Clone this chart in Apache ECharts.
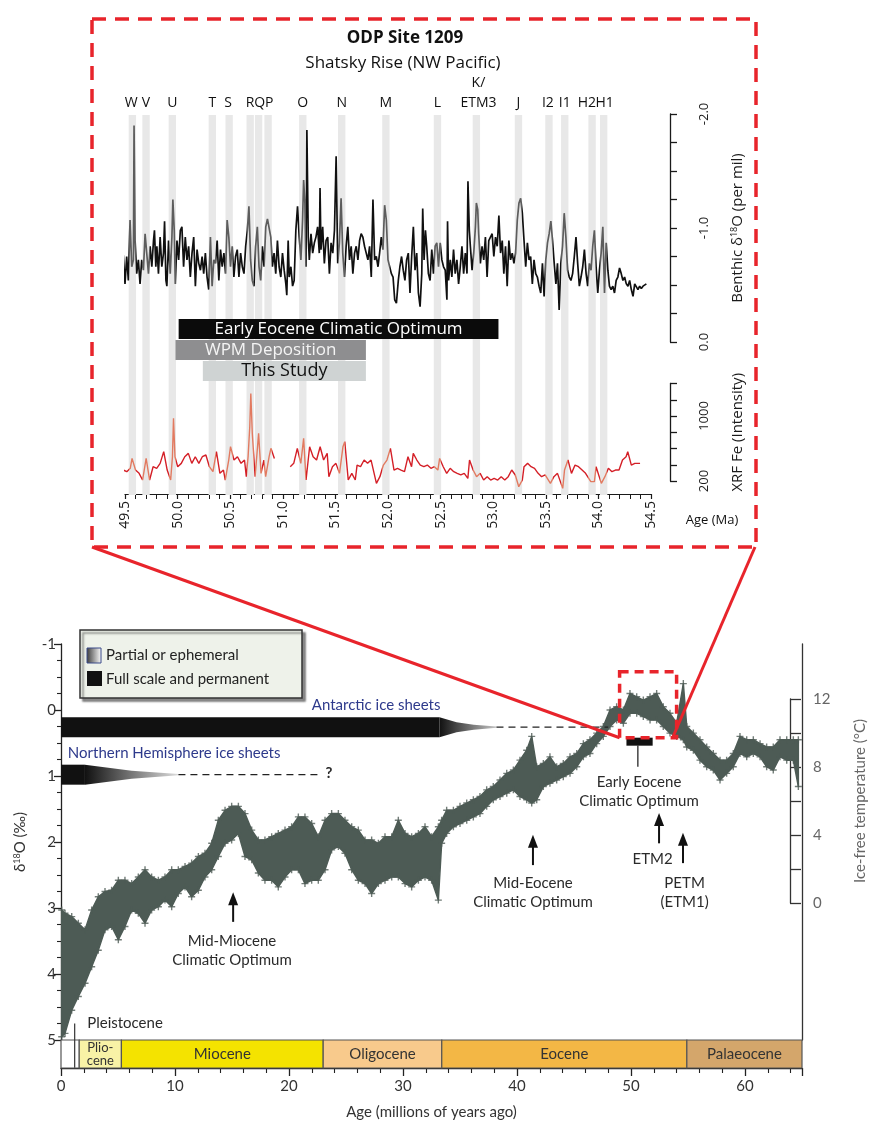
<!DOCTYPE html>
<html><head><meta charset="utf-8">
<script src="https://cdn.jsdelivr.net/npm/echarts/dist/echarts.min.js"></script>
<style>html,body{margin:0;padding:0;background:#fff}#c{width:875px;height:1131px}</style>
</head><body><div id="c"></div>
<script>
// ---------------- DATA ----------------
// ODP Site 1209 inset
const bandNames = ['W','V','U','T','S','R','Q','P','O','N','M','L','K/\nETM3','J','I2','I1','H2','H1'];
const bandAges  = [49.57,49.70,49.95,50.33,50.49,50.69,50.77,50.86,51.19,51.56,51.98,52.47,52.84,53.24,53.53,53.68,53.94,54.05];
const bandLabelAges = [49.56,49.70,49.95,50.33,50.48,50.69,50.78,50.87,51.19,51.56,51.98,52.47,52.86,53.24,53.52,53.68,53.89,54.06];
const bandWidth = 0.07;
const barNames  = ['Early Eocene Climatic Optimum','WPM Deposition','This Study'];
const barStart  = [50.01, 49.98, 50.24];
const barEnd    = [53.05, 51.79, 51.79];
const topTicksAge = [49.5, 54.5];
// benthic d18O (per mil) [age Ma, value]
const isoSeries = [[49.484,-0.76],[49.500,-0.51],[49.516,-0.75],[49.532,-0.54],[49.548,-1.07],[49.564,-0.66],[49.580,-0.72],[49.586,-1.90],[49.596,-0.89],[49.611,-0.60],[49.627,-0.72],[49.643,-0.51],[49.659,-0.72],[49.675,-0.63],[49.691,-0.95],[49.707,-0.94],[49.723,-0.60],[49.739,-0.84],[49.755,-0.66],[49.771,-0.89],[49.780,-0.98],[49.793,-0.66],[49.803,-0.84],[49.818,-0.60],[49.834,-0.92],[49.850,-0.66],[49.866,-0.78],[49.876,-1.06],[49.889,-0.54],[49.898,-0.49],[49.914,-0.89],[49.930,-0.60],[49.946,-0.92],[49.955,-1.25],[49.968,-0.98],[49.978,-0.51],[49.994,-0.89],[50.010,-0.72],[50.026,-0.98],[50.041,-1.01],[50.057,-0.66],[50.073,-0.92],[50.089,-0.72],[50.105,-0.84],[50.121,-0.57],[50.137,-0.78],[50.153,-0.92],[50.169,-0.49],[50.185,-0.81],[50.201,-0.69],[50.217,-0.63],[50.233,-0.75],[50.248,-0.60],[50.264,-0.78],[50.280,-0.57],[50.296,-0.46],[50.312,-0.92],[50.328,-0.49],[50.344,-0.72],[50.360,-0.69],[50.376,-0.89],[50.392,-0.54],[50.408,-0.81],[50.424,-0.66],[50.440,-0.78],[50.456,-0.60],[50.471,-1.07],[50.487,-0.92],[50.503,-0.66],[50.519,-0.84],[50.535,-0.57],[50.551,-0.75],[50.567,-0.81],[50.583,-0.57],[50.599,-0.78],[50.615,-0.66],[50.631,-0.60],[50.647,-0.84],[50.663,-0.98],[50.678,-1.19],[50.694,-0.72],[50.710,-0.54],[50.726,-0.49],[50.742,-0.84],[50.758,-1.01],[50.774,-0.66],[50.790,-0.54],[50.806,-0.84],[50.822,-0.66],[50.838,-1.01],[50.854,-1.08],[50.870,-1.07],[50.886,-0.92],[50.901,-0.66],[50.917,-0.78],[50.933,-0.60],[50.949,-0.89],[50.965,-0.66],[50.981,-0.57],[50.997,-0.78],[51.013,-0.63],[51.029,-0.51],[51.038,-0.41],[51.051,-0.89],[51.061,-0.57],[51.077,-0.66],[51.093,-0.49],[51.108,-0.54],[51.124,-0.98],[51.140,-1.19],[51.156,-0.92],[51.172,-0.72],[51.188,-1.07],[51.198,-1.42],[51.210,-1.22],[51.220,-0.66],[51.229,-1.86],[51.242,-0.92],[51.252,-0.72],[51.268,-0.95],[51.284,-0.78],[51.300,-0.87],[51.315,-0.92],[51.331,-1.01],[51.347,-0.78],[51.354,-1.35],[51.363,-0.81],[51.379,-1.01],[51.395,-0.69],[51.411,-0.89],[51.427,-0.92],[51.443,-0.60],[51.459,-0.87],[51.475,-0.78],[51.491,-0.98],[51.507,-1.63],[51.522,-0.69],[51.538,-0.87],[51.554,-1.26],[51.570,-0.78],[51.586,-0.57],[51.602,-0.84],[51.618,-1.01],[51.634,-0.72],[51.650,-0.84],[51.666,-0.60],[51.682,-0.78],[51.698,-0.84],[51.714,-0.72],[51.730,-0.89],[51.745,-0.95],[51.761,-0.92],[51.777,-0.84],[51.793,-0.78],[51.809,-0.72],[51.825,-0.84],[51.841,-0.57],[51.857,-1.25],[51.873,-0.72],[51.889,-0.75],[51.905,-0.66],[51.920,-0.78],[51.936,-0.92],[51.952,-0.81],[51.968,-1.20],[51.984,-1.07],[52.000,-0.72],[52.016,-0.66],[52.032,-0.60],[52.048,-0.57],[52.064,-0.37],[52.080,-0.34],
[52.098,-0.54],[52.113,-0.66],[52.129,-0.75],[52.145,-0.63],[52.161,-0.54],[52.177,-0.72],[52.193,-0.78],[52.209,-0.43],[52.225,-0.75],[52.241,-1.01],[52.257,-0.63],[52.273,-0.78],[52.289,-0.43],[52.305,-0.31],[52.321,-0.60],[52.330,-1.17],[52.343,-0.72],[52.356,-0.98],[52.368,-0.84],[52.384,-0.60],[52.400,-0.54],[52.416,-0.81],[52.432,-0.60],[52.448,-0.84],[52.464,-0.87],[52.480,-0.66],[52.496,-0.87],[52.512,-0.72],[52.528,-0.66],[52.544,-0.63],[52.560,-0.37],[52.566,-1.06],[52.576,-0.54],[52.592,-0.72],[52.607,-0.57],[52.623,-0.81],[52.639,-0.60],[52.655,-0.72],[52.671,-0.51],[52.687,-0.66],[52.703,-0.84],[52.719,-0.60],[52.735,-0.78],[52.751,-0.60],[52.760,-1.41],[52.773,-0.98],[52.783,-0.84],[52.799,-0.63],[52.815,-0.78],[52.831,-1.01],[52.840,-1.22],[52.853,-1.16],[52.862,-0.95],[52.878,-0.69],[52.894,-0.84],[52.910,-0.72],[52.926,-0.92],[52.942,-0.57],[52.958,-0.89],[52.974,-0.92],[52.990,-0.95],[53.006,-0.75],[53.022,-0.92],[53.038,-0.84],[53.054,-1.11],[53.070,-0.78],[53.086,-0.89],[53.101,-0.60],[53.117,-0.84],[53.133,-0.49],[53.149,-0.89],[53.165,-0.72],[53.181,-0.78],[53.197,-0.69],[53.213,-0.78],[53.229,-1.07],[53.245,-1.22],[53.261,-1.26],[53.277,-1.13],[53.293,-0.89],[53.309,-0.66],[53.325,-0.87],[53.341,-0.72],[53.356,-0.75],[53.372,-0.51],[53.388,-0.72],[53.404,-0.60],[53.420,-0.57],[53.436,-0.49],[53.452,-0.43],[53.468,-0.69],[53.484,-0.40],[53.500,-0.72],[53.516,-0.87],[53.532,-0.95],[53.548,-1.06],[53.564,-0.89],[53.580,-0.69],[53.596,-0.51],[53.611,-0.69],[53.627,-0.28],[53.643,-0.69],[53.659,-0.84],[53.675,-1.13],[53.691,-0.92],[53.707,-0.63],[53.723,-0.57],[53.739,-0.54],[53.755,-0.60],[53.771,-0.75],[53.787,-0.92],[53.803,-0.69],[53.819,-0.49],[53.835,-0.57],[53.851,-0.66],[53.867,-0.81],[53.883,-0.60],[53.898,-0.49],[53.914,-0.69],[53.930,-0.63],[53.946,-0.84],[53.962,-0.98],[53.978,-0.66],[53.994,-0.43],[54.010,-0.63],[54.026,-0.78],[54.042,-1.01],[54.058,-0.43],[54.074,-0.87],[54.090,-0.63],[54.105,-0.49],[54.121,-0.46],[54.137,-0.49],[54.153,-0.43],[54.169,-0.54],[54.185,-0.57],[54.201,-0.65],[54.217,-0.60],[54.233,-0.54],[54.249,-0.57],[54.265,-0.51],[54.281,-0.49],[54.297,-0.54],[54.313,-0.46],[54.329,-0.40],[54.345,-0.51],[54.360,-0.51],[54.376,-0.46],[54.392,-0.49],[54.408,-0.47],[54.424,-0.49],[54.440,-0.50],[54.456,-0.51]];
// XRF Fe intensity, two core segments [age Ma, counts]
const xrfSegmentA = [[49.483,335],[49.517,315],[49.550,356],[49.567,478],[49.600,335],[49.634,294],[49.667,212],[49.701,478],[49.734,212],[49.767,376],[49.801,356],[49.834,417],[49.868,561],[49.901,335],[49.934,212],[49.951,499],[49.961,971],[49.975,499],[50.001,376],[50.035,417],[50.068,499],[50.102,540],[50.135,417],[50.168,499],[50.202,417],[50.235,499],[50.269,520],[50.302,376],[50.336,315],[50.369,561],[50.402,294],[50.436,335],[50.453,212],[50.486,458],[50.503,622],[50.536,458],[50.569,499],[50.603,417],[50.636,458],[50.653,253],[50.670,499],[50.686,868],[50.696,1278],[50.710,786],[50.737,253],[50.770,786],[50.793,294],[50.820,458],[50.837,253],[50.870,499],[50.887,602],[50.920,478]];
const xrfSegmentB = [[51.071,376],[51.104,417],[51.138,602],[51.171,417],[51.198,725],[51.221,212],[51.255,622],[51.288,499],[51.321,458],[51.355,622],[51.388,458],[51.422,540],[51.438,253],[51.472,376],[51.505,417],[51.539,294],[51.572,622],[51.589,684],[51.622,212],[51.656,294],[51.689,212],[51.706,396],[51.739,376],[51.773,458],[51.806,417],[51.839,458],[51.890,171],[51.923,253],[51.956,396],[51.990,458],[52.023,602],[52.057,335],[52.090,356],[52.124,335],[52.157,315],[52.190,499],[52.224,376],[52.240,540],[52.274,458],[52.307,396],[52.341,376],[52.374,396],[52.408,356],[52.441,376],[52.474,335],[52.491,478],[52.525,376],[52.558,294],[52.591,356],[52.625,315],[52.658,294],[52.692,274],[52.725,294],[52.759,233],[52.775,458],[52.809,335],[52.842,253],[52.876,294],[52.909,212],[52.943,253],[52.976,212],[53.009,233],[53.043,212],[53.076,253],[53.110,212],[53.143,253],[53.176,335],[53.210,274],[53.243,130],[53.277,212],[53.293,376],[53.327,417],[53.360,376],[53.393,356],[53.427,294],[53.460,253],[53.494,274],[53.544,171],[53.577,253],[53.611,294],[53.661,110],[53.678,335],[53.711,458],[53.744,294],[53.778,396],[53.811,376],[53.845,335],[53.878,294],[53.928,192],[53.962,192],[53.978,376],[54.028,171],[54.062,253],[54.095,356],[54.129,315],[54.162,335],[54.196,335],[54.229,458],[54.263,499],[54.279,561],[54.313,396],[54.346,417],[54.380,417],[54.396,417]];

// Cenozoic deep-sea d18O compilation: envelope of the data cloud [age Ma, lightest, heaviest]
const cloudEnvelope = [[0.06,3.03,4.95],[0.35,3.08,4.90],[0.94,3.13,4.55],[1.52,3.23,4.34],[2.11,3.33,4.14],[2.69,3.03,3.89],[3.27,2.83,3.64],[3.86,2.75,3.33],[4.44,2.73,3.28],[5.03,2.58,3.48],[5.61,2.58,3.28],[6.20,2.63,3.03],[6.78,2.53,3.08],[7.37,2.42,3.23],[7.95,2.53,3.03],[8.54,2.58,2.98],[9.12,2.53,2.88],[9.71,2.42,2.98],[10.29,2.42,2.78],[10.88,2.37,2.68],[11.46,2.32,2.83],[12.05,2.22,2.73],[12.63,2.17,2.53],[13.22,2.02,2.42],[13.80,1.67,2.22],[14.39,1.52,2.02],[14.97,1.46,1.97],[15.56,1.46,1.87],[16.14,1.57,2.22],[16.73,1.82,2.27],[17.31,1.97,2.47],[17.89,1.97,2.58],[18.48,1.92,2.58],[19.06,1.87,2.68],[19.65,1.82,2.53],[20.23,1.77,2.42],[20.82,1.62,2.42],[21.40,1.62,2.63],[21.99,1.72,2.58],[22.57,1.92,2.58],[23.16,1.67,2.42],[23.74,1.57,2.12],[24.33,1.57,2.07],[24.91,1.67,2.17],[25.50,1.77,2.42],[26.08,1.82,2.58],[26.67,1.97,2.63],[27.25,1.97,2.78],[27.84,2.02,2.63],[28.42,1.92,2.58],[29.01,1.92,2.53],[29.59,1.67,2.53],[30.18,1.87,2.63],[30.76,1.92,2.68],[31.35,1.87,2.58],[31.93,1.77,2.53],[32.51,1.92,2.58],[33.10,1.77,2.88],[33.39,1.67,2.02],[33.83,1.52,1.87],[34.42,1.52,1.77],[35.00,1.46,1.72],[35.59,1.41,1.67],[36.17,1.36,1.62],[36.75,1.31,1.57],[37.34,1.21,1.46],[37.92,1.16,1.36],[38.51,1.06,1.31],[39.10,0.96,1.26],[39.68,0.91,1.21],[40.26,0.76,1.31],[40.85,0.61,1.36],[41.29,0.40,1.41],[41.73,0.86,1.36],[42.31,0.81,1.16],[42.89,0.71,1.11],[43.48,0.86,1.06],[44.06,0.81,1.01],[44.65,0.71,0.96],[45.24,0.66,0.86],[45.82,0.51,0.71],[46.40,0.45,0.66],[46.99,0.35,0.51],[47.57,0.25,0.40],[48.16,0.00,0.25],[48.74,-0.05,0.15],[49.33,0.00,0.20],[49.91,-0.25,0.05],[50.50,-0.20,0.05],[51.08,-0.15,0.10],[51.67,-0.20,0.15],[52.25,-0.25,0.15],[52.83,-0.05,0.25],[53.42,0.05,0.35],[54.01,0.20,0.40],[54.59,-0.40,0.45],[54.89,0.25,0.56],[55.47,0.35,0.61],[56.05,0.45,0.76],[56.64,0.56,0.86],[57.22,0.66,0.91],[57.81,0.76,1.06],[58.39,0.76,0.96],[58.97,0.66,0.86],[59.56,0.40,0.66],[60.15,0.45,0.71],[60.73,0.45,0.66],[61.32,0.51,0.71],[61.90,0.56,0.86],[62.48,0.56,0.91],[63.07,0.45,0.71],[63.66,0.45,0.76],[64.24,0.45,0.76],[64.68,0.45,1.16]];

// ice sheets
const iceNames     = ['Antarctic ice sheets','Northern Hemisphere ice sheets'];
const iceFullEnd   = [33.2, 2.1];
const iceTaperEnd  = [38.2, 10.3];
const iceDashEnd   = [48.0, 22.6];
const iceLevel     = [0.26, 0.98];

// annotations in the Cenozoic panel
const annoText  = ['Antarctic ice sheets','Northern Hemisphere ice sheets','?','Mid-Miocene\nClimatic Optimum','Mid-Eocene\nClimatic Optimum','Early Eocene\nClimatic Optimum','ETM2','PETM\n(ETM1)','Pleistocene'];
const annoAge   = [22.0, 0.6, 23.5, 15.0, 41.4, 50.7, 51.9, 54.7, 2.3];
const annoVal   = [-0.08, 0.65, 0.96, 3.64, 2.76, 1.24, 2.26, 2.77, 4.74];
const annoAlign = ['left','left','center','center','center','center','center','center','left'];
const arrowAge  = [15.1, 41.4, 52.46, 54.56];
const arrowTip  = [2.76, 1.89, 1.56, 1.86];
const arrowBase = [3.21, 2.35, 2.02, 2.32];
const eecoSpan  = [49.6, 51.9];
const eecoLevel = 0.48;
const eecoPointer = [50.6, 0.53, 0.86];
const zoomBoxAge = [49.0, 54.0];
const zoomBoxVal = [-0.58, 0.42];
const pleistocenePointer = [1.2, 4.75, 5.42];

// epochs
const epochNames  = ['', 'Plio-\ncene', 'Miocene', 'Oligocene', 'Eocene', 'Palaeocene'];
const epochStart  = [0, 1.6, 5.3, 23.0, 33.4, 54.9];
const epochEnd    = [1.6, 5.3, 23.0, 33.4, 54.9, 65.0];
const epochColors = ['#ffffff', '#f8f2a6', '#f4e300', '#f8ca8c', '#f3b745', '#d4a66b'];

// ---------------- CHART ----------------
const FT = 'Open Sans', FL = 'Lato';
const chart = echarts.init(document.getElementById('c'));
const hidden = (g, min, max) => ({gridIndex:g, type:'value', min, max, show:false});
const plus = 'path://M4,0H6V4H10V6H6V10H4V6H0V4H4Z';
const cloudColor = '#4d5b55';
const red = '#e8242b';

const option = {
  animation:false,
  backgroundColor:'#fff',
  grid:[
    {left:125, top:115, width:526, height:380},
    {left:125, top:114, width:526, height:228},
    {left:670, top:114, width:18, height:228},
    {left:125, top:383.5, width:526, height:97.5},
    {left:670, top:383.5, width:18, height:97.5},
    {left:125, top:319, width:526, height:63},
    {left:61, top:644, width:741, height:396},
    {left:790, top:699, width:19, height:204},
    {left:61, top:1040, width:741, height:28}
  ].map(g => Object.assign(g, {containLabel:false, outerBoundsMode:'none'})),
  xAxis:[
    hidden(0, 49.5, 54.5),
    hidden(1, 49.5, 54.5),
    hidden(2, 0, 1),
    {gridIndex:3, type:'value', min:topTicksAge[0], max:topTicksAge[1], interval:0.5, offset:13,
      axisLine:{lineStyle:{color:'#1a1a1a', width:1.2}},
      axisTick:{length:5, lineStyle:{color:'#1a1a1a', width:1.2}},
      minorTick:{show:true, splitNumber:5, length:5, lineStyle:{color:'#1a1a1a', width:1}},
      splitLine:{show:false}, minorSplitLine:{show:false},
      axisLabel:{rotate:90, fontSize:14, fontFamily:FT, color:'#1a1a1a', margin:7, formatter:v=>v.toFixed(1)}},
    hidden(4, 0, 1),
    hidden(5, 49.5, 54.5),
    hidden(6, 0, 65),
    hidden(7, 0, 1),
    {gridIndex:8, type:'value', min:0, max:65, interval:10,
      axisLine:{lineStyle:{color:'#222', width:1.3}},
      axisTick:{length:8, lineStyle:{color:'#222', width:1.3}},
      minorTick:{show:true, splitNumber:5, length:5, lineStyle:{color:'#222', width:1.1}},
      splitLine:{show:false},
      axisLabel:{fontSize:15, fontFamily:FL, color:'#333', margin:11, showMaxLabel:false,
        formatter:v=>(v%10===0)?String(v):''},
      name:'Age (millions of years ago)', nameLocation:'middle', nameGap:37,
      nameTextStyle:{fontSize:15, fontFamily:FL, color:'#333'}}
  ],
  yAxis:[
    hidden(0, 0, 1),
    {gridIndex:1, type:'value', min:-2, max:0, inverse:true, show:false},
    {gridIndex:2, type:'value', min:-2, max:0, inverse:true, interval:0.25, position:'right',
      axisLine:{show:true, lineStyle:{color:'#1a1a1a', width:1.3}},
      axisTick:{show:true, length:7, lineStyle:{color:'#1a1a1a', width:1.3}},
      splitLine:{show:false},
      axisLabel:{rotate:90, fontSize:13, fontFamily:FT, color:'#1a1a1a', margin:10,
        formatter:v=>Math.abs(v-Math.round(v))<1e-6 ? v.toFixed(1) : ''},
      name:'{n|Benthic δ}{s|18}{n|O (per mil)}', nameLocation:'middle', nameRotate:90, nameGap:42,
      nameTextStyle:{rich:{n:{fontSize:15, fontFamily:FT, color:'#1a1a1a'}, s:{fontSize:9, fontFamily:FT, color:'#1a1a1a', verticalAlign:'top'}}}},
    {gridIndex:3, type:'value', min:200, max:1400, show:false},
    {gridIndex:4, type:'value', min:200, max:1400, interval:200, position:'right',
      axisLine:{show:true, lineStyle:{color:'#1a1a1a', width:1.3}},
      axisTick:{show:true, length:7, lineStyle:{color:'#1a1a1a', width:1.3}},
      splitLine:{show:false},
      axisLabel:{rotate:90, fontSize:13, fontFamily:FT, color:'#1a1a1a', margin:10,
        formatter:v=>(v===200||v===1000) ? String(v) : ''},
      name:'XRF Fe (Intensity)', nameLocation:'middle', nameRotate:90, nameGap:42,
      nameTextStyle:{fontSize:15, fontFamily:FT, color:'#1a1a1a'}},
    {gridIndex:5, type:'category', data:barNames, inverse:true, show:false},
    {gridIndex:6, type:'value', min:-1, max:5, inverse:true, interval:1,
      axisLine:{show:true, lineStyle:{color:'#222', width:1.3}},
      axisTick:{show:true, length:7, lineStyle:{color:'#222', width:1.3}},
      minorTick:{show:true, splitNumber:4, length:4, lineStyle:{color:'#222', width:1.1}},
      splitLine:{show:false},
      axisLabel:{fontSize:15, fontFamily:FL, color:'#333', margin:5},
      name:'{n|δ}{s|18}{n|O (‰)}', nameLocation:'middle', nameRotate:90, nameGap:33,
      nameTextStyle:{rich:{n:{fontSize:15, fontFamily:FL, color:'#333'}, s:{fontSize:9, fontFamily:FL, color:'#333', verticalAlign:'top'}}}},
    {gridIndex:6, type:'value', min:-1, max:5, inverse:true, position:'right',
      axisLine:{show:true, lineStyle:{color:'#333', width:1.3}}, axisTick:{show:false}, axisLabel:{show:false}, splitLine:{show:false}},
    {gridIndex:7, type:'value', min:0, max:12, interval:2, position:'right',
      axisLine:{show:true, lineStyle:{color:'#333', width:1.3}},
      axisTick:{show:true, length:11, lineStyle:{color:'#333', width:1.3}},
      splitLine:{show:false},
      axisLabel:{fontSize:15, fontFamily:FL, color:'#666', margin:4, formatter:v=>(v%4===0)?String(v):''},
      name:'Ice-free temperature (°C)', nameLocation:'middle', nameRotate:90, nameGap:44,
      nameTextStyle:{fontSize:15, fontFamily:FL, color:'#666'}},
    hidden(8, 0, 1)
  ],
  visualMap:[
    {type:'piecewise', show:false, seriesIndex:2, dimension:0,
      pieces:bandAges.map(a=>({gte:a-bandWidth/2, lte:a+bandWidth/2, color:'#5d5d5d'})), outOfRange:{color:'#101010'}},
    {type:'piecewise', show:false, seriesIndex:[3,4], dimension:0,
      pieces:bandAges.map(a=>({gte:a-bandWidth/2, lte:a+bandWidth/2, color:'#e27a60'})), outOfRange:{color:'#d41f27'}}
  ],
  series:[
    {type:'custom', xAxisIndex:0, yAxisIndex:0, silent:true, z:1,
      data:bandAges.map((a,i)=>[a,i]),
      renderItem:(p,api)=>{
        const a=api.value(0), cs=p.coordSys;
        const x0=api.coord([a-bandWidth/2,0])[0], x1=api.coord([a+bandWidth/2,0])[0];
        return {type:'rect', shape:{x:x0,y:cs.y,width:x1-x0,height:cs.height}, style:{fill:'#e8e8e8'}};
      }},
    {type:'custom', xAxisIndex:0, yAxisIndex:0, silent:true, z:2,
      data:bandLabelAges.map((a,i)=>[a,i]),
      renderItem:(p,api)=>{
        const i=api.value(1), cs=p.coordSys;
        const x=api.coord([api.value(0),0])[0];
        return {type:'text', x:x, y:cs.y-2, style:{text:bandNames[i], align:'center', verticalAlign:'bottom', lineHeight:20, fontSize:14, fontFamily:FT, fill:'#111'}};
      }},
    {type:'line', xAxisIndex:1, yAxisIndex:1, data:isoSeries, symbol:'none', z:5,
      lineStyle:{width:1.7}},
    {type:'line', xAxisIndex:3, yAxisIndex:3, data:xrfSegmentA, symbol:'none', clip:false, z:5,
      lineStyle:{width:1.4}},
    {type:'line', xAxisIndex:3, yAxisIndex:3, data:xrfSegmentB, symbol:'none', clip:false, z:5,
      lineStyle:{width:1.4}},
    {type:'custom', xAxisIndex:5, yAxisIndex:5, silent:true, z:6,
      data:barNames.map((n,i)=>[barStart[i], barEnd[i], i]),
      renderItem:(p,api)=>{
        const i=api.value(2);
        const s=api.coord([api.value(0), i]), e=api.coord([api.value(1), i]);
        const h=api.size([0,1])[1];
        const fills=['#0b0b0b','#8e8e90','#cfd3d3'], tc=['#ffffff','#f4f4f4','#111'], fs=[17,17,18];
        return {type:'group', children:[
          {type:'rect', shape:{x:s[0], y:s[1]-h/2, width:e[0]-s[0], height:h-1}, style:{fill:fills[i]}},
          {type:'text', x:(s[0]+e[0])/2, y:s[1]-0.5, style:{text:barNames[i], align:'center', verticalAlign:'middle', fontSize:fs[i], fontFamily:FT, fill:tc[i]}}
        ]};
      }},
    // Cenozoic cloud
    {type:'custom', xAxisIndex:6, yAxisIndex:6, silent:true, z:3,
      data:[[0,0]],
      renderItem:(p,api)=>{
        const pts=[];
        cloudEnvelope.forEach(d=>pts.push(api.coord([d[0], d[1]])));
        for(let i=cloudEnvelope.length-1;i>=0;i--) pts.push(api.coord([cloudEnvelope[i][0], cloudEnvelope[i][2]]));
        return {type:'polygon', shape:{points:pts}, style:{fill:cloudColor, stroke:cloudColor, lineWidth:1.5, lineJoin:'round'}};
      }},
    {type:'scatter', xAxisIndex:6, yAxisIndex:6, silent:true, z:3, symbol:plus, symbolSize:7,
      itemStyle:{color:cloudColor},
      data:cloudEnvelope.map(d=>[d[0],d[1]]).concat(cloudEnvelope.map(d=>[d[0],d[2]]))},
    // ice sheets
    {type:'custom', xAxisIndex:6, yAxisIndex:6, silent:true, z:6,
      data:iceNames.map((n,i)=>[i]),
      renderItem:(p,api)=>{
        const i=api.value(0), lv=iceLevel[i];
        const [x0,yc]=api.coord([0,lv]);
        const x1=api.coord([iceFullEnd[i],lv])[0], x2=api.coord([iceTaperEnd[i],lv])[0], x3=api.coord([iceDashEnd[i],lv])[0];
        const h=10, L=x2-x1;
        const taper = i===0
          ? [[x1,yc-h],[x1+L*0.3,yc-5],[x1+L*0.6,yc-2.5],[x2,yc-0.6],[x2,yc+0.6],[x1+L*0.6,yc+2.5],[x1+L*0.3,yc+5],[x1,yc+h]]
          : [[x1,yc-h],[x1+L*0.5,yc-4],[x2,yc-0.6],[x2,yc+0.6],[x1+L*0.5,yc+4],[x1,yc+h]];
        return {type:'group', children:[
          {type:'rect', shape:{x:x0,y:yc-h,width:x1-x0,height:2*h}, style:{fill:'#111'}},
          {type:'polygon', shape:{points:taper}, style:{fill:new echarts.graphic.LinearGradient(0,0,1,0,[{offset:0,color:'#111'},{offset:1,color:i===0?'#c4c4c4':'#dcdcdc'}])}},
          {type:'line', shape:{x1:x2,y1:yc,x2:x3,y2:yc}, style:{stroke:'#222', lineWidth:1.3, lineDash:[7,5]}}
        ]};
      }},
    // EECO bar in Cenozoic panel
    {type:'custom', xAxisIndex:6, yAxisIndex:6, silent:true, z:7,
      data:[[eecoSpan[0], eecoSpan[1], eecoLevel]],
      renderItem:(p,api)=>{
        const s=api.coord([api.value(0), api.value(2)]), e=api.coord([api.value(1), api.value(2)]);
        const pt=api.coord([eecoPointer[0], eecoPointer[1]]), pb=api.coord([eecoPointer[0], eecoPointer[2]]);
        return {type:'group', children:[
          {type:'rect', shape:{x:s[0], y:s[1]-4, width:e[0]-s[0], height:8}, style:{fill:'#111'}},
          {type:'line', shape:{x1:pt[0], y1:pt[1], x2:pb[0], y2:pb[1]}, style:{stroke:'#444', lineWidth:1.5}}
        ]};
      }},
    // arrows
    {type:'custom', xAxisIndex:6, yAxisIndex:6, silent:true, z:7,
      data:arrowAge.map((a,i)=>[a, arrowTip[i], arrowBase[i]]),
      renderItem:(p,api)=>{
        const [x,yt]=api.coord([api.value(0), api.value(1)]);
        const yb=api.coord([api.value(0), api.value(2)])[1];
        const hl=13, hw=5;
        return {type:'group', children:[
          {type:'line', shape:{x1:x,y1:yb,x2:x,y2:yt+hl-2}, style:{stroke:'#111', lineWidth:2}},
          {type:'polygon', shape:{points:[[x,yt],[x-hw,yt+hl],[x+hw,yt+hl]]}, style:{fill:'#111'}}
        ]};
      }},
    // annotation texts
    {type:'custom', xAxisIndex:6, yAxisIndex:6, silent:true, z:8,
      data:annoText.map((t,i)=>[annoAge[i], annoVal[i], i]),
      renderItem:(p,api)=>{
        const i=api.value(2);
        const [x,y]=api.coord([api.value(0), api.value(1)]);
        const navy = i<2;
        return {type:'text', x:x, y:y, style:{text:annoText[i], align:annoAlign[i], verticalAlign:'middle', lineHeight:19,
          fontSize:15, fontFamily:FL, fontWeight: i===2 ? 'bold' : 'normal', fill: navy ? '#2e3a8c' : '#2a2a2a'}};
      }},
    // zoom box
    {type:'custom', xAxisIndex:6, yAxisIndex:6, silent:true, z:9,
      data:[[zoomBoxAge[0], zoomBoxVal[0], zoomBoxAge[1], zoomBoxVal[1]]],
      renderItem:(p,api)=>{
        const a=api.coord([api.value(0), api.value(1)]), b=api.coord([api.value(2), api.value(3)]);
        return {type:'rect', shape:{x:a[0], y:a[1], width:b[0]-a[0], height:b[1]-a[1]}, style:{fill:null, stroke:red, lineWidth:3.5, lineDash:[9,6]}};
      }},
    // pleistocene pointer
    {type:'custom', xAxisIndex:6, yAxisIndex:6, silent:true, z:8, clip:false,
      data:[pleistocenePointer],
      renderItem:(p,api)=>{
        const a=api.coord([api.value(0), api.value(1)]), b=api.coord([api.value(0), api.value(2)]);
        return {type:'line', shape:{x1:a[0], y1:a[1], x2:b[0], y2:b[1]}, style:{stroke:'#333', lineWidth:1.2}};
      }},
    // epochs
    {type:'custom', xAxisIndex:8, yAxisIndex:9, silent:true, z:4,
      data:epochNames.map((n,i)=>[epochStart[i], epochEnd[i], i]),
      renderItem:(p,api)=>{
        const i=api.value(2);
        const a=api.coord([api.value(0), 1]), b=api.coord([api.value(1), 0]);
        return {type:'group', children:[
          {type:'rect', shape:{x:a[0], y:a[1], width:b[0]-a[0], height:b[1]-a[1]}, style:{fill:epochColors[i], stroke:'#555', lineWidth:1.2}},
          {type:'text', x:(a[0]+b[0])/2, y:(a[1]+b[1])/2, style:{text:epochNames[i], align:'center', verticalAlign:'middle',
            fontSize: i===1 ? 13 : 15, lineHeight: i===1 ? 13 : 18, fontFamily:FL, fill:'#333'}}
        ]};
      }}
  ]
};
chart.setOption(option);

const bl = chart.convertToPixel({xAxisIndex:6, yAxisIndex:6}, [zoomBoxAge[0], zoomBoxVal[1]]);
const br = chart.convertToPixel({xAxisIndex:6, yAxisIndex:6}, [zoomBoxAge[1], zoomBoxVal[1]]);
const legendGrad = new echarts.graphic.LinearGradient(0,0,1,0,[{offset:0,color:'#3a3a3a'},{offset:1,color:'#ffffff'}]);
chart.setOption({graphic:[
  {type:'rect', z:100, shape:{x:92, y:19, width:664, height:528}, style:{fill:null, stroke:red, lineWidth:3.5, lineDash:[14,9]}},
  {type:'line', z:100, shape:{x1:92, y1:547, x2:bl[0], y2:bl[1]}, style:{stroke:red, lineWidth:3}},
  {type:'line', z:100, shape:{x1:755, y1:547, x2:br[0]-4, y2:br[1]}, style:{stroke:red, lineWidth:3}},
  {type:'text', z:100, x:405, y:38, style:{text:'ODP Site 1209', align:'center', verticalAlign:'middle', fontSize:17, fontWeight:'bold', fontFamily:FT, fill:'#111'}},
  {type:'text', z:100, x:403, y:63, style:{text:'Shatsky Rise (NW Pacific)', align:'center', verticalAlign:'middle', fontSize:17, fontFamily:FT, fill:'#111'}},
  {type:'text', z:100, x:712, y:520, style:{text:'Age (Ma)', align:'center', verticalAlign:'middle', fontSize:13, fontFamily:FT, fill:'#111'}},
  {type:'group', z:100, x:80, y:630, children:[
    {type:'rect', shape:{x:0,y:0,width:222,height:68}, style:{fill:'#eef2ea', stroke:'#333', lineWidth:1.5, shadowBlur:2, shadowOffsetX:3, shadowOffsetY:3, shadowColor:'rgba(0,0,0,0.45)'}},
    {type:'rect', shape:{x:7,y:18,width:14,height:15}, style:{fill:legendGrad, stroke:'#3a4a8a', lineWidth:1}},
    {type:'text', x:26, y:25.5, style:{text:'Partial or ephemeral', verticalAlign:'middle', fontSize:15, fontFamily:FL, fill:'#222'}},
    {type:'rect', shape:{x:7,y:41,width:15,height:15}, style:{fill:'#111'}},
    {type:'text', x:26, y:49, style:{text:'Full scale and permanent', verticalAlign:'middle', fontSize:15, fontFamily:FL, fill:'#222'}}
  ]}
]});
</script></body></html>
